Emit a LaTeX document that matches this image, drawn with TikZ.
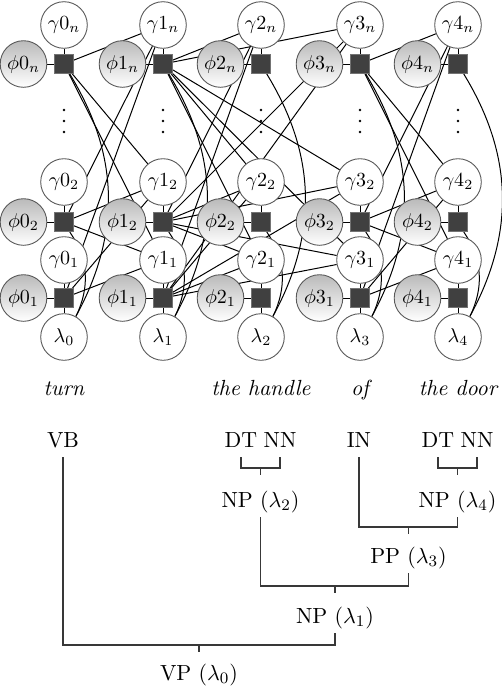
\documentclass[tikz,border=0pt]{standalone}
\usetikzlibrary{backgrounds}
\begin{document}
\begin{tikzpicture}[x=0.5pt,y=-0.5pt,
  lbl/.style={font=\fontsize{10}{12}\selectfont},
  var/.style={circle,draw=black!65,line width=0.45pt,minimum size=23.3pt,inner sep=0pt,fill=white,lbl},
  obs/.style={var,top color=black!27,bottom color=white},
  fac/.style={rectangle,draw=black!55,fill=black!75,line width=0.3pt,minimum size=9.6pt,inner sep=0pt},
  edge/.style={line width=0.5pt,black},
  word/.style={font=\fontsize{10.95}{13}\selectfont\itshape,inner sep=0pt,anchor=base},
  tnode/.style={font=\fontsize{10.95}{13}\selectfont,inner xsep=0.5pt,inner ysep=2.5pt,text height=0.75em,text depth=0.25em,anchor=base},
  tree/.style={line width=0.65pt,black!78}]
\useasboundingbox (0,0) rectangle (502,686);
% graph nodes
\foreach \i/\x in {0/64,1/163,2/261,3/360,4/458} {
  \foreach \j/\sy/\gy in {n/64/25,2/222/182,1/298/260} {
    \node[fac] (f\i\j) at (\x,\sy) {};
    \node[var] (g\i\j) at (\x,\gy) {$\gamma{\i}_{\j}$};
    \node[obs] (p\i\j) at (\x-40.5,\sy) {$\phi{\i}_{\j}$};
  }
  \node[var] (l\i) at (\x,337) {$\lambda_{\i}$};
  \foreach \d in {110,121,132} \fill (\x,\d) circle (0.7pt);
}
% edges
\begin{scope}[on background layer]
  \foreach \i in {0,...,4} {
    \foreach \j in {n,2,1} {
      \draw[edge] (p\i\j) -- (f\i\j);
      \draw[edge] (g\i\j) -- (f\i\j);
    }
    \draw[edge] (f\i1) -- (l\i);
    \draw[edge] (f\i2) to[bend left=30] (l\i);
    \draw[edge] (f\i n) to[bend left=30] (l\i);
  }
  \foreach \p/\c in {0/1,1/2,1/3,3/4}
    \foreach \j in {n,2,1}
      \foreach \k in {n,2,1}
        \draw[edge] (f\p\j) -- (g\c\k);
\end{scope}
% words
\node[word] (w0) at (64,395) {turn};
\node[word] (w2) at (261,395) {the handle};
\node[word] (w3) at (360,395) {of};
\node[word] (w4) at (458,395) {the door};
% parse tree
\node[tnode] (VB) at (63,447) {VB};
\node[tnode] (DTa) at (241,447) {DT};
\node[tnode] (NNa) at (280,447) {NN};
\node[tnode] (IN) at (359,447) {IN};
\node[tnode] (DTb) at (438,447) {DT};
\node[tnode] (NNb) at (477,447) {NN};
\node[tnode] (NP2) at (260.5,507) {NP $(\lambda_2)$};
\node[tnode] (NP4) at (457.5,507) {NP $(\lambda_4)$};
\node[tnode] (PP3) at (408.5,563) {PP $(\lambda_3)$};
\node[tnode] (NP1) at (335,623) {NP $(\lambda_1)$};
\node[tnode] (VP0) at (199,680) {VP $(\lambda_0)$};
\draw[tree] (DTa.south) -- (DTa.south |- 0,468) -| (NNa.south);
\draw[tree] (NP2.north |- 0,468) -- (NP2.north |- 0,475);
\draw[tree] (DTb.south) -- (DTb.south |- 0,468) -| (NNb.south);
\draw[tree] (NP4.north |- 0,468) -- (NP4.north |- 0,475);
\draw[tree] (IN.south) -- (IN.south |- 0,527) -| (NP4.south);
\draw[tree] (PP3.north |- 0,527) -- (PP3.north |- 0,534);
\draw[tree] (NP2.south) -- (NP2.south |- 0,586) -| (PP3.south);
\draw[tree] (NP1.north |- 0,586) -- (NP1.north |- 0,593);
\draw[tree] (VB.south) -- (VB.south |- 0,645) -| (NP1.south);
\draw[tree] (VP0.north |- 0,645) -- (VP0.north |- 0,652);
\end{tikzpicture}
\end{document}
